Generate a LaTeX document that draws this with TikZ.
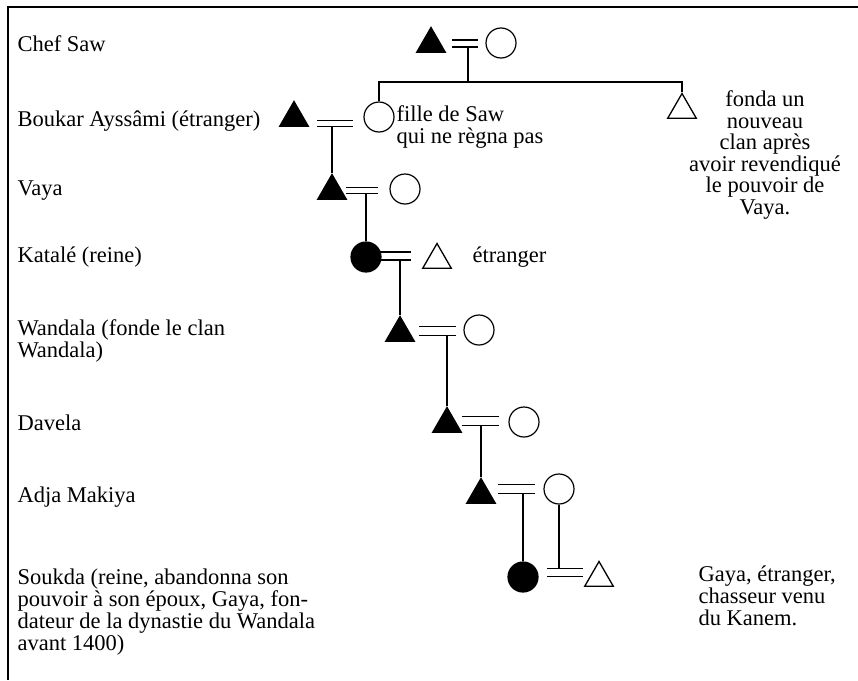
\documentclass[tikz,border=0pt]{standalone}
\usepackage{fontspec}
\setmainfont{Liberation Serif}
\usetikzlibrary{shapes.geometric}

\tikzset{
  tri/.style={regular polygon, regular polygon sides=3, draw=black, line width=1.3pt, minimum size=33pt, inner sep=0pt},
  rond/.style={circle, draw=black, line width=1.2pt, minimum size=30pt, inner sep=0pt},
  chef/.style={fill=black},
  marr/.style={minimum width=34pt, minimum height=6pt, inner sep=0pt},
  nom/.style={anchor=base west, align=left, inner sep=0pt}
}

\begin{document}
\begin{tikzpicture}[x=1pt, y=-1pt, line width=1.1pt, font=\fontsize{22.5}{21.7}\selectfont]
            \useasboundingbox (0,0) rectangle (858,680);
            \draw[line width=1.5pt] (858,7) -- (8,7) -- (8,680);

            % generations
            \node[tri,chef] (saw) at (431, 44) {};
            \node[rond] (sawf) at (501, 43) {};
            \node[marr,minimum width=24pt] (m0) at (465, 43.5) {};

            \node[rond] (fille) at (379, 117) {};
            \node[tri] (frere) at (682, 110) {};
            \node[tri,chef] (boukar) at (294, 118) {};
            \node[marr,minimum height=5pt] (m1) at (335, 123.5) {};

            \node[tri,chef] (vaya) at (332, 191) {};
            \node[rond] (vayaf) at (405, 189) {};
            \node[marr,minimum width=30pt,minimum height=5pt] (m2) at (362, 190.5) {};

            \node[rond,chef] (katale) at (366, 257) {};
            \node[tri] (kataleh) at (437, 260) {};
            \node[marr,minimum width=30pt,minimum height=7pt] (m3) at (395, 256) {};

            \node[tri,chef] (wandala) at (400, 333) {};
            \node[rond] (wandf) at (479, 330) {};
            \node[marr,minimum width=35pt,minimum height=8pt] (m4) at (437.5, 331) {};

            \node[tri,chef] (davela) at (447, 424) {};
            \node[rond] (davf) at (524, 422) {};
            \node[marr,minimum width=35pt,minimum height=8pt] (m5) at (480.5, 421) {};

            \node[tri,chef] (adja) at (481, 495) {};
            \node[rond] (adjaf) at (559, 489) {};
            \node[marr,minimum width=35pt,minimum height=8pt] (m6) at (516.5, 489) {};

            \node[rond,chef] (soukda) at (523, 577) {};
            \node[tri] (gaya) at (599, 578) {};
            \node[marr,minimum height=7pt] (m7) at (565, 572.5) {};

            \coordinate (s0) at (468, 82);

            % marriages
            \foreach \m in {m0,m1,m2,m3,m4,m5,m6,m7}
                \draw[line width=1.4pt] (\m.north west) -- (\m.north east) (\m.south west) -- (\m.south east);

            % descent
            \draw (m0.south -| s0) -- (s0);
            \draw (fille.north) |- (s0) -| (frere.north);
            \foreach \m/\c in {m1/vaya, m2/katale, m3/wandala, m4/davela, m5/adja, m6/soukda}
                \draw (\m.south -| \c.north) -- (\c.north);
            \draw (adjaf.south) -- (adjaf.south |- m7.north);

            % names (base = last line)
            \node[nom] (t0) at (17, 51) {Chef Saw};
            \node[nom] (t1) at (17, 126) {Boukar Ayssâmi (étranger)};
            \node[nom] (t2) at (17, 195) {Vaya};
            \node[nom] (t3) at (17, 262) {Katalé (reine)};
            \node[nom] (t4) at (17, 357) {Wandala (fonde le clan\\Wandala)};
            \node[nom] (t5) at (17, 430) {Davela};
            \node[nom] (t6) at (17, 502) {Adja Makiya};
            \node[nom] (t7) at (17, 650) {Soukda (reine, abandonna son\\pouvoir à son époux, Gaya, fon-\\dateur de la dynastie du Wandala\\avant 1400)};

            \node[nom] (n1) at (396, 143) {fille de Saw\\qui ne règna pas};
            \node[nom] (n2) at (472, 262) {étranger};
            \node[anchor=base, align=center, inner sep=0pt, font=\fontsize{22.5}{21.5}\selectfont] (n3) at (765, 214) {fonda un\\nouveau\\clan après\\avoir revendiqué\\le pouvoir de\\Vaya.};
            \node[nom] (n4) at (698, 625) {Gaya, étranger,\\chasseur venu\\du Kanem.};
        \end{tikzpicture}
\end{document}
